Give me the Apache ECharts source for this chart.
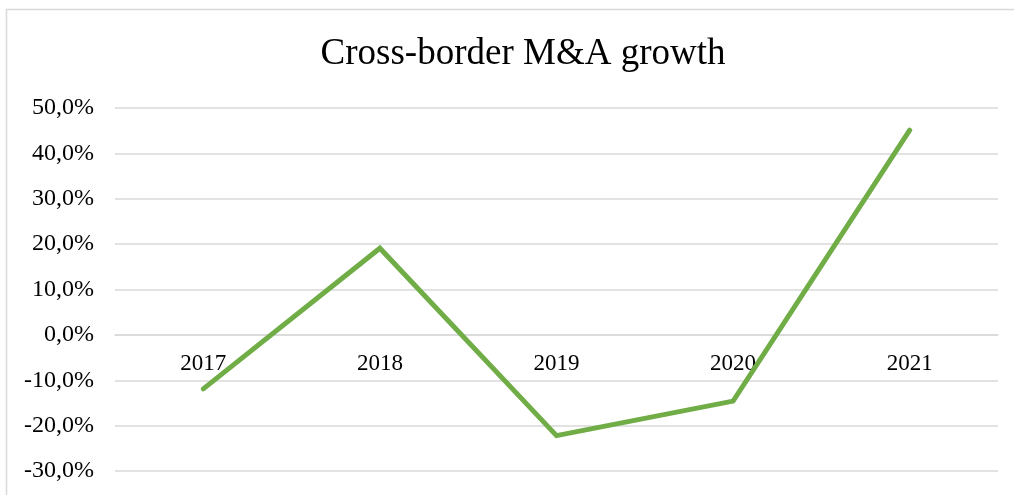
<!DOCTYPE html>
<html>
<head>
<meta charset="utf-8">
<script src="https://cdn.jsdelivr.net/npm/echarts@6/dist/echarts.min.js"></script>
<style>
  html, body { margin: 0; padding: 0; background: #ffffff; }
  #chart { width: 1014px; height: 495px; }
</style>
</head>
<body>
<div id="chart"></div>
<script>
// Year-over-year growth of cross-border M&A, in percent
const years = ['2017', '2018', '2019', '2020', '2021'];
const growth = [-11.9, 19.1, -22.2, -14.6, 45.1];
const yMin = -30, yMax = 50, yStep = 10;

const serif = '"Liberation Serif", "Times New Roman", serif';
const chart = echarts.init(document.getElementById('chart'), null, { renderer: 'canvas' });

chart.setOption({
  animation: false,
  backgroundColor: '#ffffff',
  title: {
    text: 'Cross-border M&A growth',
    left: 518,
    textAlign: 'center',
    top: 31,
    textStyle: { fontFamily: serif, fontSize: 37, fontWeight: 'normal', color: '#000000' }
  },
  graphic: [{
    type: 'rect',
    shape: { x: 6.5, y: 9.5, width: 1020, height: 500 },
    style: { fill: 'none', stroke: '#d9d9d9', lineWidth: 1.5 },
    silent: true
  }],
  grid: { left: 115, right: 16, top: 108, bottom: 24, containLabel: false, outerBoundsMode: 'none' },
  xAxis: {
    type: 'category',
    data: years,
    boundaryGap: true,
    position: 'bottom',
    axisLine: { show: true, onZero: false, lineStyle: { color: '#d9d9d9', width: 1.5 } },
    axisTick: { show: false },
    axisLabel: { fontFamily: serif, fontSize: 23, color: '#000000', margin: 18 }
  },
  yAxis: {
    type: 'value',
    min: yMin,
    max: yMax,
    interval: yStep,
    axisLine: { show: false },
    axisTick: { show: false },
    splitLine: { lineStyle: { color: '#d9d9d9', width: 1.5 } },
    axisLabel: {
      fontFamily: serif, fontSize: 24, color: '#000000', margin: 21,
      formatter: v => v.toFixed(1).replace('.', ',') + '%'
    }
  },
  series: [{
    type: 'line',
    data: growth,
    showSymbol: false,
    lineStyle: { color: '#70ad47', width: 5, cap: 'round', join: 'miter' },
    itemStyle: { color: '#70ad47' }
  }]
});

// Lift the category axis (line and year labels) up to the 0% level
const zeroY = chart.convertToPixel({ yAxisIndex: 0 }, 0);
const baseY = chart.convertToPixel({ yAxisIndex: 0 }, yMin);
chart.setOption({ xAxis: { offset: -(baseY - zeroY) } });
</script>
</body>
</html>
